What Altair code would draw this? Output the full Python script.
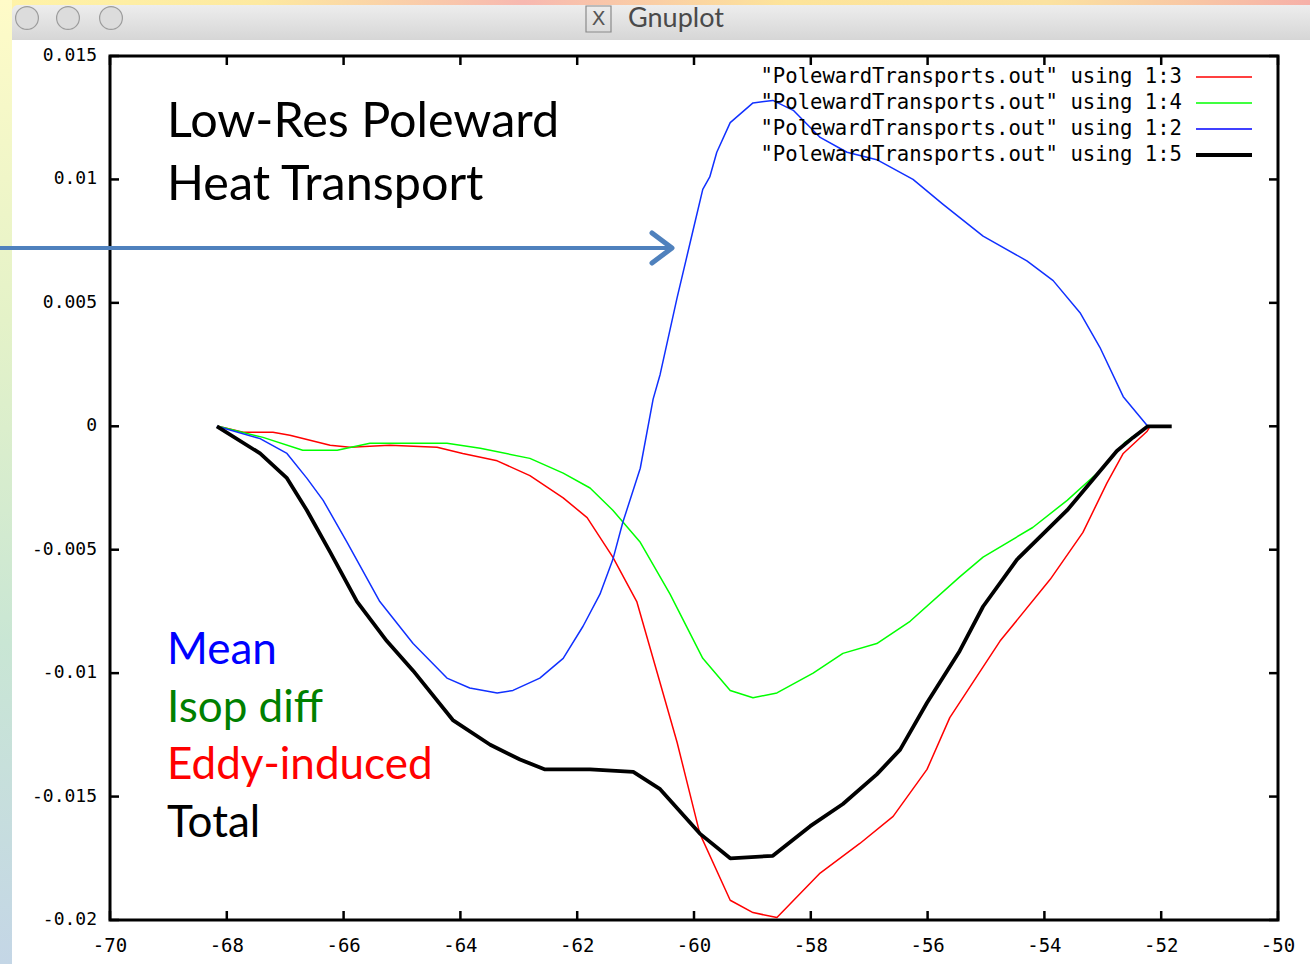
import altair as alt
import pandas as pd

# ---------------- data ----------------
x_red = [-68.15, -67.72, -67.21, -66.92, -66.23, -65.89, -65.21, -64.40, -63.96, -63.37,
         -62.81, -62.24, -61.83, -61.39, -60.98, -60.58, -60.29, -59.90, -59.38, -58.99,
         -58.58, -57.84, -57.16, -56.59, -56.01, -55.62, -54.76, -53.90, -53.34, -52.93,
         -52.65, -52.24, -52.19]
y_red = [0, -0.00024, -0.00024, -0.00036, -0.00077, -0.00085, -0.00077, -0.00085, -0.0011, -0.0014,
         -0.0020, -0.0029, -0.0037, -0.0053, -0.0071, -0.0104, -0.0128, -0.0165, -0.0192, -0.0197,
         -0.0199, -0.0181, -0.0169, -0.0158, -0.0139, -0.0118, -0.0087, -0.0062, -0.0043, -0.0023,
         -0.0011, -0.0002, 0]

x_green = [-68.15, -67.38, -66.70, -66.11, -65.55, -64.23, -63.66, -62.81, -62.24, -61.78,
           -61.39, -60.92, -60.41, -59.85, -59.38, -58.99, -58.58, -57.96, -57.45, -56.87,
           -56.30, -55.45, -55.05, -54.20, -53.61, -53.05, -52.62, -52.23]
y_green = [0, -0.00045, -0.00097, -0.00097, -0.00069, -0.00069, -0.00089, -0.0013, -0.0019, -0.0025,
           -0.0034, -0.0047, -0.0068, -0.0094, -0.0107, -0.0110, -0.0108, -0.0100, -0.0092, -0.0088,
           -0.0079, -0.0061, -0.0053, -0.0041, -0.0030, -0.0018, -0.00065, 0]

x_blue = [-68.17, -67.43, -66.97, -66.63, -66.35, -65.94, -65.38, -64.81, -64.23, -63.84,
          -63.37, -63.10, -62.64, -62.24, -61.90, -61.61, -61.39, -61.22, -60.92, -60.70,
          -60.58, -60.29, -60.02, -59.85, -59.73, -59.61, -59.38, -58.99, -58.65, -58.30,
          -57.84, -57.38, -56.87, -56.25, -55.74, -55.05, -54.30, -53.85, -53.39, -53.05,
          -52.65, -52.23]
y_blue = [0, -0.0005, -0.0011, -0.0021, -0.0030, -0.0047, -0.0071, -0.0088, -0.0102, -0.0106,
          -0.0108, -0.0107, -0.0102, -0.0094, -0.0081, -0.0068, -0.0054, -0.0039, -0.0017, 0.0011,
          0.0021, 0.0052, 0.0079, 0.0096, 0.0101, 0.0111, 0.0123, 0.0131, 0.0132, 0.0128,
          0.0117, 0.0111, 0.0108, 0.0100, 0.0090, 0.0077, 0.0067, 0.0059, 0.0046, 0.0032,
          0.0012, 0]

x_black = [-68.17, -67.43, -66.97, -66.63, -66.23, -65.77, -65.26, -64.81, -64.13, -63.49,
           -62.98, -62.55, -61.78, -61.04, -60.58, -59.90, -59.38, -58.65, -58.01, -57.45,
           -56.87, -56.47, -56.01, -55.45, -55.05, -54.47, -53.61, -52.76, -52.48, -52.23,
           -51.82]
y_black = [0, -0.0011, -0.0021, -0.0034, -0.0051, -0.0071, -0.0087, -0.0099, -0.0119, -0.0129,
           -0.0135, -0.0139, -0.0139, -0.0140, -0.0147, -0.0165, -0.0175, -0.0174, -0.0162, -0.0153,
           -0.0141, -0.0131, -0.0112, -0.0091, -0.0073, -0.0054, -0.0034, -0.0010, -0.00045, 0,
           0]

x_ticks = [-70, -68, -66, -64, -62, -60, -58, -56, -54, -52, -50]
x_tick_labels = ["-70", "-68", "-66", "-64", "-62", "-60", "-58", "-56", "-54", "-52", "-50"]
y_ticks = [-0.02, -0.015, -0.01, -0.005, 0, 0.005, 0.01, 0.015]
y_tick_labels = ["-0.02", "-0.015", "-0.01", "-0.005", "0", "0.005", "0.01", "0.015"]

legend_labels = ['"PolewardTransports.out" using 1:3',
                 '"PolewardTransports.out" using 1:4',
                 '"PolewardTransports.out" using 1:2',
                 '"PolewardTransports.out" using 1:5']
legend_colors = ["#ff0000", "#00ff00", "#0000ff", "#000000"]
legend_widths = [1.5, 1.5, 1.5, 4]

title_lines = ["Low-Res Poleward", "Heat Transport"]
key_labels = ["Mean", "Isop diff", "Eddy-induced", "Total"]
key_colors = ["#0000ff", "#008000", "#ff0000", "#000000"]

# ---------------- layout ----------------
W, H = 1168, 864
PAD_L, PAD_T = 110, 56
one = pd.DataFrame({"k": [0]})

XS = alt.Scale(domain=[-70, -50], nice=False, zero=False)
YS = alt.Scale(domain=[-0.02, 0.015], nice=False, zero=False)


def gstops(cols):
    n = len(cols) - 1
    return [alt.GradientStop(color=c, offset=i / n) for i, c in enumerate(cols)]


# decorations: slide background, window, title bar
bg = alt.Chart(one).mark_rect(
    fill=alt.LinearGradient(gradient="linear", x1=0, x2=1, y1=0, y2=0,
                            stops=gstops(["#fff3a8", "#fde9a0", "#f7b8b0", "#fde49a",
                                          "#fbe2a0", "#f6b0a8"]))
).encode(x=alt.value(-PAD_L), x2=alt.value(W + 32), y=alt.value(-PAD_T), y2=alt.value(H + 44))

left_strip = alt.Chart(one).mark_rect(
    fill=alt.LinearGradient(gradient="linear", x1=0, x2=0, y1=0, y2=1,
                            stops=gstops(["#fffbc8", "#e4f2c8", "#c9e6d4", "#c4d6e6"]))
).encode(x=alt.value(-PAD_L), x2=alt.value(-98), y=alt.value(-PAD_T), y2=alt.value(H + 44))

window = alt.Chart(one).mark_rect(color="#ffffff").encode(
    x=alt.value(-98), x2=alt.value(W + 32), y=alt.value(-16), y2=alt.value(H + 44))

titlebar = alt.Chart(one).mark_rect(
    fill=alt.LinearGradient(gradient="linear", x1=0, x2=0, y1=0, y2=1,
                            stops=gstops(["#ededed", "#d6d6d6"])),
    cornerRadiusTopLeft=6,
).encode(x=alt.value(-98), x2=alt.value(W + 32), y=alt.value(-51), y2=alt.value(-16))

buttons = [
    alt.Chart(one).mark_point(shape="circle", filled=True, size=520, fill="#dcdcdc",
                              stroke="#9c9c9c", strokeWidth=1.2, opacity=1)
    .encode(x=alt.value(cx), y=alt.value(-38))
    for cx in (-83, -42, 1)
]

xbox = alt.Chart(one).mark_rect(filled=False, stroke="#8a8a8a", strokeWidth=1.2).encode(
    x=alt.value(476), x2=alt.value(501), y=alt.value(-50), y2=alt.value(-24))
xglyph = alt.Chart(one).mark_text(text="X", font="DejaVu Sans", fontSize=20, color="#555555",
                                  align="center", baseline="middle").encode(
    x=alt.value(488.5), y=alt.value(-37))
wtitle = alt.Chart(one).mark_text(text="Gnuplot", font="Lato", fontSize=27, color="#4a4a4a",
                                  align="left", baseline="alphabetic").encode(
    x=alt.value(518), y=alt.value(-29))

# plot frame
frame = alt.Chart(one).mark_rect(filled=False, stroke="#000000", strokeWidth=3).encode(
    x=alt.value(0), x2=alt.value(W), y=alt.value(0), y2=alt.value(H))

# inward tick marks on all four sides + tick labels (placed through the scales)
xt = pd.DataFrame({"v": x_ticks, "lab": x_tick_labels})
yt = pd.DataFrame({"v": y_ticks, "lab": y_tick_labels})
TL = 9
ticks = [
    alt.Chart(yt).mark_rule(color="#000000", strokeWidth=2.5).encode(
        y=alt.Y("v:Q", scale=YS, axis=None), x=alt.value(0), x2=alt.value(TL)),
    alt.Chart(yt).mark_rule(color="#000000", strokeWidth=2.5).encode(
        y=alt.Y("v:Q", scale=YS, axis=None), x=alt.value(W - TL), x2=alt.value(W)),
    alt.Chart(xt).mark_rule(color="#000000", strokeWidth=2.5).encode(
        x=alt.X("v:Q", scale=XS, axis=None), y=alt.value(H - TL), y2=alt.value(H)),
    alt.Chart(xt).mark_rule(color="#000000", strokeWidth=2.5).encode(
        x=alt.X("v:Q", scale=XS, axis=None), y=alt.value(0), y2=alt.value(TL)),
]
tick_labels = [
    alt.Chart(yt).mark_text(font="DejaVu Sans Mono", fontSize=18, color="#000000",
                            align="right", baseline="middle").encode(
        y=alt.Y("v:Q", scale=YS, axis=None), x=alt.value(-13), text="lab:N"),
    alt.Chart(xt).mark_text(font="DejaVu Sans Mono", fontSize=19, color="#000000",
                            align="center", baseline="middle").encode(
        x=alt.X("v:Q", scale=XS, axis=None), y=alt.value(H + 26), text="lab:N"),
]


def series(xs, ys, color, width):
    df = pd.DataFrame({"x": xs, "y": ys})
    return alt.Chart(df).mark_line(color=color, strokeWidth=width, strokeJoin="round").encode(
        x=alt.X("x:Q", scale=XS, axis=None),
        y=alt.Y("y:Q", scale=YS, axis=None),
    )


lines = [
    series(x_red, y_red, "#ff0000", 1.5),
    series(x_green, y_green, "#00ff00", 1.5),
    series(x_blue, y_blue, "#1030ff", 1.5),
    series(x_black, y_black, "#000000", 3.8),
]

# gnuplot key (top right)
legend = []
for i, (lab, col, lw) in enumerate(zip(legend_labels, legend_colors, legend_widths)):
    ry = 21 + 26 * i
    legend.append(alt.Chart(one).mark_text(text=lab, font="DejaVu Sans Mono", fontSize=20.6,
                                           color="#000000", align="right", baseline="middle")
                  .encode(x=alt.value(1072), y=alt.value(ry)))
    legend.append(alt.Chart(one).mark_rule(color=col, strokeWidth=lw)
                  .encode(x=alt.value(1086), x2=alt.value(1142), y=alt.value(ry)))

# slide annotations
annots = []
for i, t in enumerate(title_lines):
    annots.append(alt.Chart(one).mark_text(text=t, font="Lato", fontSize=48.5, color="#000000",
                                           align="left", baseline="alphabetic")
                  .encode(x=alt.value(57), y=alt.value(81 + 63 * i)))
for i, (t, c) in enumerate(zip(key_labels, key_colors)):
    annots.append(alt.Chart(one).mark_text(text=t, font="Lato", fontSize=44, color=c,
                                           align="left", baseline="alphabetic")
                  .encode(x=alt.value(57), y=alt.value(608 + 57.5 * i)))

arrow_line = alt.Chart(one).mark_rule(color="#4f81bd", strokeWidth=4).encode(
    x=alt.value(-PAD_L), x2=alt.value(558), y=alt.value(192))
arrow_head = alt.Chart(one).mark_point(
    shape="M-1,-0.75L0,0L-1,0.75", filled=False, size=1600, stroke="#4f81bd",
    strokeWidth=5, strokeCap="round", strokeJoin="round", opacity=1
).encode(x=alt.value(562), y=alt.value(192))

chart = alt.layer(
    bg, left_strip, window, titlebar, *buttons, xbox, xglyph, wtitle,
    *lines, *ticks, *tick_labels, frame, *legend, *annots, arrow_line, arrow_head,
).properties(
    width=W, height=H,
    padding={"left": PAD_L, "top": PAD_T, "right": 32, "bottom": 44},
    autosize=alt.AutoSizeParams(type="none"),
).configure_view(stroke="transparent").configure(background="#ffffff")

chart.save("out.html", embed_options={"renderer": "svg", "actions": False})
